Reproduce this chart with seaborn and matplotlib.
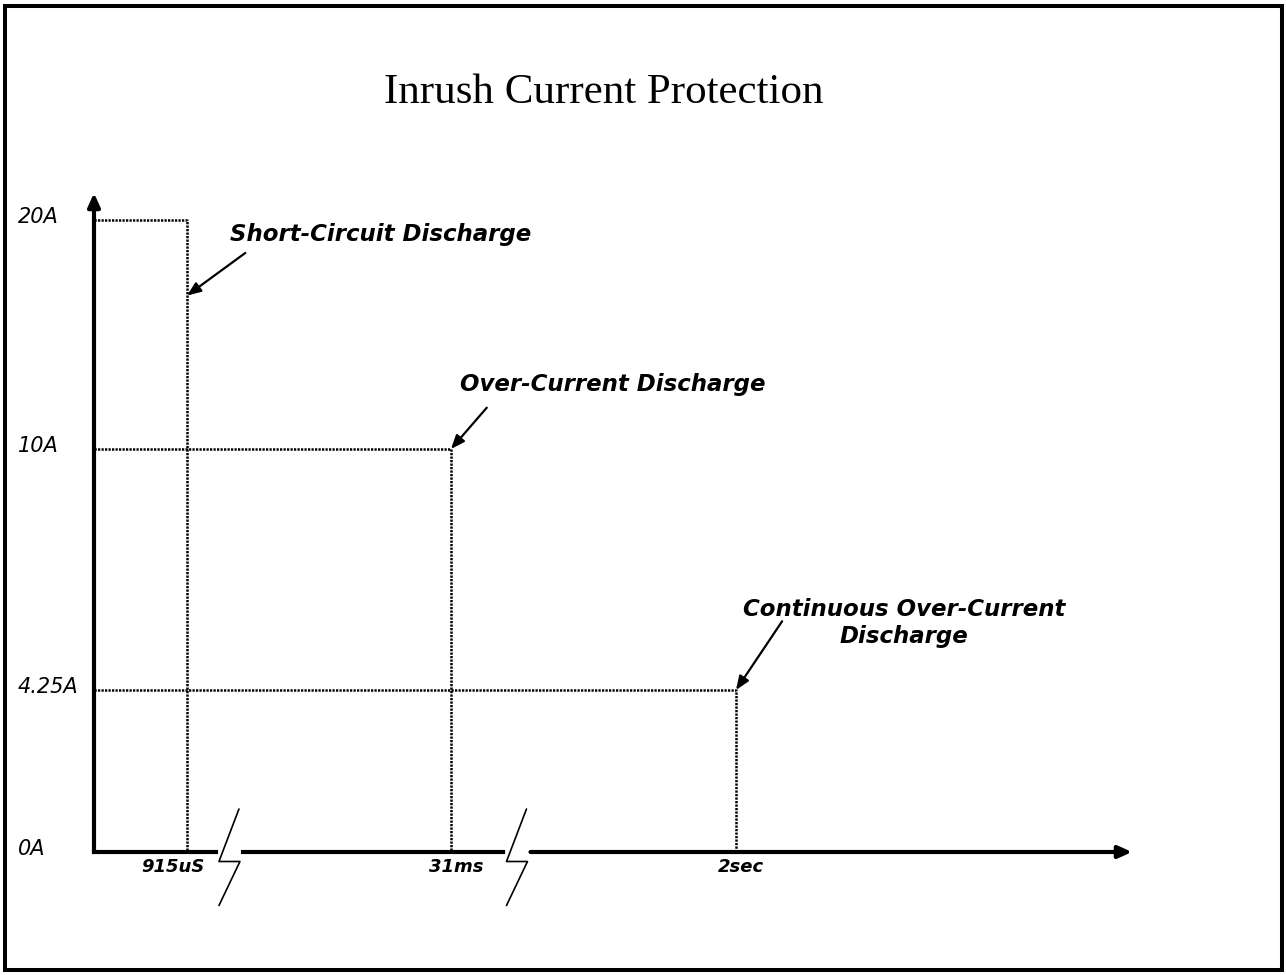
"""
Inrush current protection thresholds: trip current vs trip time.

Output: out.png (1286x975)
"""
import matplotlib

matplotlib.use("Agg")

import matplotlib.pyplot as plt
import matplotlib.transforms as mtransforms
import numpy as np
import pandas as pd
import seaborn as sns
from matplotlib.patches import Rectangle

# ---------------------------------------------------------------------------
# Data
# ---------------------------------------------------------------------------

PROTECTIONS = [
    "Short-Circuit Discharge",
    "Over-Current Discharge",
    "Continuous Over-Current\nDischarge",
]
TRIP_TIMES_S = [915e-6, 31e-3, 2.0]
TRIP_CURRENTS_A = [20.0, 10.0, 4.25]
TIME_LABELS = ["915uS", "31ms", "2sec"]

CURRENT_TICKS = [0.0, 4.25, 10.0, 20.0]
CURRENT_LABELS = ["0A", "4.25A", "10A", "20A"]

# where each callout arrow lands on its threshold line
ARROW_CURRENTS_A = [16.7, 10.0, 4.25]

# ---------------------------------------------------------------------------
# Layout (broken, non-linear axes -> piecewise scale)
# ---------------------------------------------------------------------------

W, H = 1286, 975
X_END, Y_END = 4.75, 21.2
X_STOPS = [0.0, *TRIP_TIMES_S, X_END]
X_FRACS = [0.0, 0.0896, 0.3439, 0.6185, 1.0]
Y_STOPS = [0.0, 4.25, 10.0, 20.0, Y_END]
Y_FRACS = [0.0, 0.2458, 0.6115, 0.959, 1.0]

BREAK_FRACS = [0.1305, 0.4075]
GAP = 0.013
# zigzag of the axis break, inches relative to the break centre
ZIG_X = [0.095, -0.105, 0.105, -0.105]
ZIG_Y = [0.43, -0.095, -0.095, -0.535]

X_LABEL_NUDGE = [-0.14, 0.05, 0.05]  # inches, sideways shift of time labels
TEXT_OFFSETS = [(194, 55), (162, 58), (168, 47)]  # pixels from arrow tip
ARROW_RELPOS = [(0.083, 0.0), (0.12, 0.0), (0.122, 0.54)]
ARROW_SHRINK = [5, 8, 0]

SANS = "DejaVu Sans"
SERIF = "Liberation Serif"


def fwd_x(v):
    return np.interp(v, X_STOPS, X_FRACS)


def inv_x(v):
    return np.interp(v, X_FRACS, X_STOPS)


def fwd_y(v):
    return np.interp(v, Y_STOPS, Y_FRACS)


def inv_y(v):
    return np.interp(v, Y_FRACS, Y_STOPS)


def threshold_frame() -> pd.DataFrame:
    rows = []
    for name, t, i in zip(PROTECTIONS, TRIP_TIMES_S, TRIP_CURRENTS_A):
        rows += [
            {"name": name, "time": 0.0, "current": i},
            {"name": name, "time": t, "current": i},
            {"name": name, "time": t, "current": 0.0},
        ]
    return pd.DataFrame(rows)


def main() -> None:
    sns.set_style("white")
    plt.rcParams["font.family"] = [SANS]
    for key in ("text.color", "axes.labelcolor", "xtick.color", "ytick.color"):
        plt.rcParams[key] = "black"

    fig = plt.figure(figsize=(W / 100, H / 100), dpi=100)
    ax = fig.add_axes([94 / W, (H - 852) / H, 1038 / W, 659 / H])
    ax.set_xscale("function", functions=(fwd_x, inv_x))
    ax.set_yscale("function", functions=(fwd_y, inv_y))

    # dotted threshold outlines
    sns.lineplot(
        data=threshold_frame(), x="time", y="current", units="name",
        estimator=None, sort=False, color="black", linewidth=1.8,
        linestyle=(0, (0.9, 0.5)), legend=False, ax=ax,
    )

    ax.set_xlim(0, X_END)
    ax.set_ylim(0, Y_END)
    for side in ax.spines:
        ax.spines[side].set_visible(False)
    ax.set_xlabel("")
    ax.set_ylabel("")

    # ticks
    ax.set_xticks(TRIP_TIMES_S, TIME_LABELS)
    ax.set_yticks(CURRENT_TICKS, CURRENT_LABELS)
    ax.tick_params(axis="x", length=0, pad=4.5)
    ax.tick_params(axis="y", length=0, pad=54.7)
    for lab, dx in zip(ax.get_xticklabels(), X_LABEL_NUDGE):
        lab.set_fontsize(13)
        lab.set_fontweight("bold")
        lab.set_fontstyle("italic")
        nudge = mtransforms.ScaledTranslation(dx, 0, fig.dpi_scale_trans)
        lab.set_transform(lab.get_transform() + nudge)
    lift = mtransforms.ScaledTranslation(0, 0.05, fig.dpi_scale_trans)
    for lab in ax.get_yticklabels():
        lab.set_fontsize(15)
        lab.set_fontstyle("italic")
        lab.set_horizontalalignment("left")
        lab.set_transform(lab.get_transform() + lift)

    # axes with arrows; x axis broken twice
    axis_kw = dict(color="black", lw=3, clip_on=False, transform=ax.transAxes,
                   solid_capstyle="projecting")
    b1, b2 = BREAK_FRACS
    ax.plot([0, b1 - GAP], [0, 0], **axis_kw)
    ax.plot([b1 + GAP, b2 - GAP], [0, 0], **axis_kw)
    head = dict(arrowstyle="-|>,head_length=0.4,head_width=0.18",
                mutation_scale=20, lw=3, color="black", shrinkA=0, shrinkB=0)
    ax.annotate("", xy=(1, 0), xytext=(b2 + GAP, 0), xycoords="axes fraction",
                arrowprops=head, annotation_clip=False)
    ax.annotate("", xy=(0, 1), xytext=(0, 0), xycoords="axes fraction",
                arrowprops=head, annotation_clip=False)

    for bf in BREAK_FRACS:
        trans = fig.dpi_scale_trans + mtransforms.ScaledTranslation(bf, 0, ax.transAxes)
        ax.plot(ZIG_X, ZIG_Y, color="black", lw=1.2, transform=trans, clip_on=False)

    # callouts
    for name, t, i, off, rel, shr in zip(PROTECTIONS, TRIP_TIMES_S, ARROW_CURRENTS_A,
                                        TEXT_OFFSETS, ARROW_RELPOS, ARROW_SHRINK):
        props = dict(arrowstyle="-|>,head_length=0.55,head_width=0.22",
                     mutation_scale=15, lw=1.6, color="black",
                     relpos=rel, shrinkA=shr, shrinkB=0)
        if shr == 0:
            props["patchA"] = None
        ax.annotate(
            name, xy=(t, i), xytext=off, textcoords="offset pixels",
            ha="center", va="baseline", multialignment="center",
            fontsize=16.5, fontweight="bold", fontstyle="italic", color="black",
            arrowprops=props, annotation_clip=False,
        )

    fig.text(604 / W, (H - 103) / H, "Inrush Current Protection",
             ha="center", va="baseline", fontsize=31, family=SERIF, color="black")

    fig.patches.append(Rectangle((5 / W, 5.5 / H), 1277 / W, 964 / H,
                                 transform=fig.transFigure, fill=False,
                                 lw=2.9, ec="black"))

    fig.savefig("out.png", dpi=100)
    plt.close(fig)


if __name__ == "__main__":
    main()
